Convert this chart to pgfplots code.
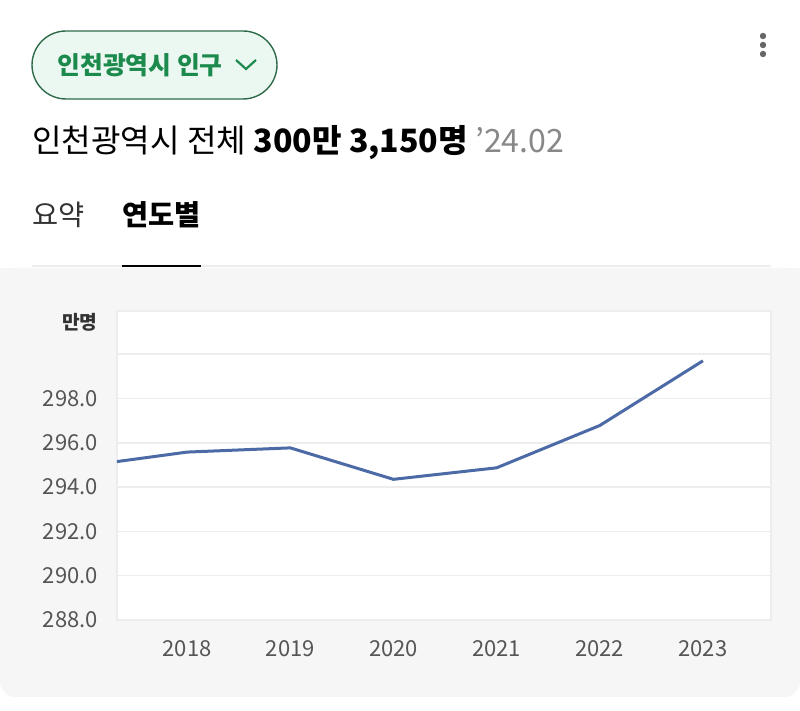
\documentclass[border=0pt]{standalone}
\usepackage{fontspec}
\setmainfont{Noto Sans CJK KR}
\usepackage{pgfplots}
\pgfplotsset{compat=1.18}
\definecolor{panel}{HTML}{F6F6F6}
\definecolor{gridc}{HTML}{EDEDED}
\definecolor{tickc}{HTML}{555555}
\definecolor{linec}{HTML}{4C6AA6}
\definecolor{pillfill}{HTML}{EBF8F1}
\definecolor{pilldraw}{HTML}{2F6B4A}
\definecolor{pilltext}{HTML}{1C8A4C}
\definecolor{greyd}{HTML}{888888}

\begin{document}
\begin{tikzpicture}[x=0.5pt,y=0.5pt]
% page and grey panel
\fill[white] (0,0) rectangle (800,711);
\fill[panel, rounded corners=8pt] (0,14) rectangle (800,443);
\fill[panel] (0,430) rectangle (800,443);
\draw[gridc, line width=0.8pt] (32,445) -- (771,445);
\draw[black, line width=1.2pt] (122,445) -- (201,445);

% header
\draw[pilldraw, fill=pillfill, line width=0.7pt, rounded corners=17pt] (32,612) rectangle (277,680);
\node[anchor=west, inner sep=0, text=pilltext, font=\fontsize{12.4}{14}\selectfont\bfseries] at (57,646) {인천광역시 인구};
\draw[pilltext, line width=1.1pt] (236,651) -- (246,642) -- (256,651);
\fill[black!60] (763,675) circle (1.6pt);
\fill[black!60] (763,666) circle (1.6pt);
\fill[black!60] (763,657) circle (1.6pt);
\node[anchor=west, inner sep=0, font=\fontsize{16.05}{19}\selectfont] at (32,568)
  {인천광역시 전체 \textbf{300만 3,150명} \textcolor{greyd}{\symbol{"0027}24.02}};
\node[anchor=west, inner sep=0, text=black!80, font=\fontsize{14.2}{17}\selectfont] at (32,496) {요약};
\node[anchor=west, inner sep=0, font=\fontsize{14.2}{17}\selectfont\bfseries] at (122,496) {연도별};
\node[inner sep=0, font=\fontsize{9.6}{11}\selectfont\bfseries, text=black!80] at (80,389) {만명};

\begin{axis}[
    at={(58.5pt,45.5pt)}, anchor=south west,
    scale only axis, width=327pt, height=154.5pt,
    xmin=2017.32, xmax=2023.66,
    ymin=288, ymax=301.95,
    xtick={2018,2019,2020,2021,2022,2023},
    xticklabels={2018,2019,2020,2021,2022,2023},
    ytick={288,290,292,294,296,298,300},
    yticklabels={288.0,290.0,292.0,294.0,296.0,298.0,{}},
    ymajorgrids=true,
    grid style={gridc, line width=0.8pt},
    axis line style={gridc, line width=0.8pt},
    axis background/.style={fill=white},
    major tick length=0pt,
    xticklabel style={font=\fontsize{11}{13}\selectfont, text=tickc, yshift=-6.5pt},
    yticklabel style={font=\fontsize{11}{13}\selectfont, text=tickc, xshift=-6pt},
]
\addplot[linec, line width=1.5pt, line join=round] coordinates {
    (2017,294.95) (2018,295.58) (2019,295.77) (2020,294.35)
    (2021,294.87) (2022,296.78) (2023,299.70)
};
\end{axis}
\end{tikzpicture}
\end{document}
